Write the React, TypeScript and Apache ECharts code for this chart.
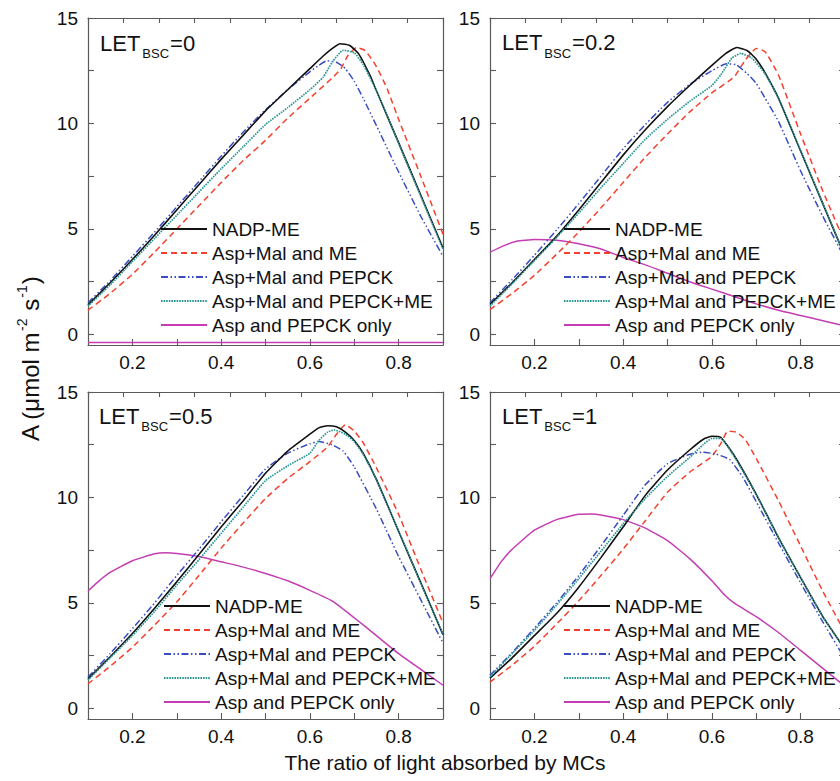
import React, { useEffect, useRef } from 'react';
import * as echarts from 'echarts';

const FONT = '"Liberation Sans", Arial, Helvetica, sans-serif';

const seriesNames = ['NADP-ME', 'Asp+Mal and ME', 'Asp+Mal and PEPCK', 'Asp+Mal and PEPCK+ME', 'Asp and PEPCK only'];
const letValues = ['0', '0.2', '0.5', '1'];
const xTickValues = [0.2, 0.3, 0.4, 0.5, 0.6, 0.7, 0.8];
const xLabelValues = [0.2, 0.4, 0.6, 0.8];
const yTickValues = [0, 2.5, 5, 7.5, 10, 12.5, 15];
const yLabelValues = [0, 5, 10, 15];
const xTitle = 'The ratio of light absorbed by MCs';

// ---- LET_BSC = 0 ----
const nadp_let0 = [[0.1,1.4],[0.15,2.45],[0.2,3.55],[0.25,4.7],[0.3,5.9],[0.35,7.1],[0.4,8.3],[0.45,9.45],[0.5,10.6],[0.55,11.6],[0.6,12.6],[0.63,13.2],[0.65,13.55],[0.668,13.78],[0.69,13.7],[0.71,13.3],[0.735,12.3],[0.75,11.55],[0.8,9.1],[0.85,6.6],[0.9,4.1]];
const aspMalMe_let0 = [[0.1,1.15],[0.15,1.95],[0.2,2.85],[0.25,3.9],[0.3,5.0],[0.35,6.1],[0.4,7.2],[0.45,8.25],[0.5,9.2],[0.55,10.25],[0.6,11.2],[0.65,12.15],[0.67,12.6],[0.685,13.2],[0.705,13.6],[0.725,13.45],[0.75,12.7],[0.775,11.6],[0.8,10.2],[0.85,7.5],[0.9,4.75]];
const aspMalPepck_let0 = [[0.1,1.5],[0.15,2.55],[0.2,3.7],[0.25,4.85],[0.3,6.05],[0.35,7.25],[0.4,8.45],[0.45,9.6],[0.5,10.65],[0.55,11.6],[0.6,12.45],[0.62,12.75],[0.638,12.97],[0.66,12.9],[0.68,12.6],[0.7,12.0],[0.72,11.2],[0.75,9.9],[0.8,7.7],[0.85,5.6],[0.9,3.7]];
const aspMalPepckMe_let0 = [[0.1,1.35],[0.15,2.35],[0.2,3.45],[0.25,4.55],[0.3,5.65],[0.35,6.75],[0.4,7.85],[0.45,8.9],[0.5,9.95],[0.55,10.75],[0.6,11.6],[0.63,12.2],[0.65,12.9],[0.675,13.47],[0.7,13.35],[0.72,12.8],[0.75,11.55],[0.8,9.05],[0.85,6.55],[0.9,4.05]];
const aspPepck_let0 = [[0.1,-0.38],[0.5,-0.38],[0.9,-0.38]];

// ---- LET_BSC = 0.2 ----
const nadp_let02 = [[0.1,1.42],[0.15,2.45],[0.2,3.55],[0.25,4.65],[0.3,5.9],[0.35,7.2],[0.4,8.5],[0.45,9.7],[0.5,10.8],[0.55,11.8],[0.6,12.75],[0.63,13.3],[0.656,13.6],[0.68,13.45],[0.7,13.05],[0.72,12.4],[0.75,11.2],[0.8,8.7],[0.85,6.2],[0.9,3.7]];
const aspMalMe_let02 = [[0.1,1.18],[0.15,1.95],[0.2,2.8],[0.25,3.8],[0.3,4.85],[0.35,6.0],[0.4,7.2],[0.45,8.4],[0.5,9.5],[0.55,10.55],[0.6,11.45],[0.65,12.2],[0.675,13.0],[0.7,13.55],[0.72,13.4],[0.75,12.3],[0.8,9.5],[0.85,6.8],[0.9,4.35]];
const aspMalPepck_let02 = [[0.1,1.5],[0.15,2.6],[0.2,3.75],[0.25,4.95],[0.3,6.2],[0.35,7.5],[0.4,8.8],[0.45,9.95],[0.5,11.0],[0.55,11.85],[0.6,12.5],[0.633,12.83],[0.655,12.78],[0.68,12.35],[0.7,11.9],[0.72,11.2],[0.75,10.1],[0.8,7.75],[0.85,5.6],[0.9,3.6]];
const aspMalPepckMe_let02 = [[0.1,1.35],[0.15,2.4],[0.2,3.5],[0.25,4.6],[0.3,5.75],[0.35,6.95],[0.4,8.1],[0.45,9.25],[0.5,10.2],[0.55,11.05],[0.6,11.8],[0.62,12.3],[0.645,13.1],[0.665,13.32],[0.69,13.1],[0.72,12.35],[0.75,11.2],[0.8,8.7],[0.85,6.2],[0.9,3.7]];
const aspPepck_let02 = [[0.1,3.9],[0.13,4.2],[0.16,4.42],[0.2,4.5],[0.25,4.47],[0.3,4.3],[0.35,4.05],[0.4,3.65],[0.45,3.3],[0.5,2.9],[0.55,2.5],[0.6,2.15],[0.65,1.8],[0.7,1.45],[0.75,1.15],[0.8,0.9],[0.85,0.65],[0.9,0.4]];

// ---- LET_BSC = 0.5 ----
const nadp_let05 = [[0.1,1.4],[0.15,2.45],[0.2,3.55],[0.25,4.75],[0.3,6.0],[0.35,7.3],[0.4,8.6],[0.45,9.85],[0.5,11.15],[0.55,12.2],[0.6,13.0],[0.62,13.3],[0.64,13.4],[0.66,13.35],[0.68,13.1],[0.7,12.7],[0.72,12.1],[0.75,10.85],[0.8,8.4],[0.85,5.95],[0.9,3.5]];
const aspMalMe_let05 = [[0.1,1.17],[0.15,2.0],[0.2,2.9],[0.25,3.95],[0.3,5.05],[0.35,6.3],[0.4,7.6],[0.45,8.8],[0.5,9.95],[0.55,10.9],[0.6,11.7],[0.64,12.4],[0.66,13.0],[0.68,13.45],[0.7,13.15],[0.72,12.6],[0.75,11.4],[0.8,9.2],[0.85,6.6],[0.9,4.05]];
const aspMalPepck_let05 = [[0.1,1.49],[0.15,2.6],[0.2,3.78],[0.25,5.0],[0.3,6.3],[0.35,7.55],[0.4,8.85],[0.45,10.1],[0.5,11.35],[0.55,12.1],[0.6,12.55],[0.62,12.65],[0.65,12.5],[0.675,12.2],[0.7,11.45],[0.75,9.45],[0.8,7.2],[0.85,5.15],[0.9,3.1]];
const aspMalPepckMe_let05 = [[0.1,1.35],[0.15,2.4],[0.2,3.45],[0.25,4.6],[0.3,5.85],[0.35,7.05],[0.4,8.3],[0.45,9.55],[0.5,10.8],[0.55,11.5],[0.6,12.1],[0.62,12.7],[0.64,13.1],[0.655,13.2],[0.68,13.0],[0.7,12.65],[0.72,12.05],[0.75,10.85],[0.8,8.4],[0.85,5.95],[0.9,3.5]];
const aspPepck_let05 = [[0.1,5.57],[0.125,6.05],[0.15,6.45],[0.2,7.0],[0.25,7.33],[0.275,7.38],[0.3,7.35],[0.35,7.2],[0.4,6.95],[0.45,6.7],[0.5,6.4],[0.55,6.05],[0.6,5.6],[0.65,5.1],[0.7,4.3],[0.75,3.45],[0.8,2.6],[0.85,1.85],[0.9,1.1]];

// ---- LET_BSC = 1 ----
const nadp_let1 = [[0.1,1.44],[0.15,2.4],[0.2,3.45],[0.25,4.5],[0.3,5.75],[0.35,7.15],[0.4,8.6],[0.45,10.1],[0.5,11.3],[0.55,12.25],[0.58,12.75],[0.6,12.9],[0.62,12.85],[0.65,12.0],[0.7,10.15],[0.75,8.1],[0.8,6.2],[0.85,4.35],[0.9,2.8]];
const aspMalMe_let1 = [[0.1,1.25],[0.15,2.05],[0.2,2.95],[0.25,4.0],[0.3,5.1],[0.35,6.3],[0.4,7.55],[0.45,8.9],[0.5,10.25],[0.55,11.2],[0.6,11.95],[0.62,12.55],[0.636,13.15],[0.655,13.1],[0.675,12.75],[0.7,11.85],[0.75,9.85],[0.8,7.7],[0.85,5.55],[0.9,3.6]];
const aspMalPepck_let1 = [[0.1,1.57],[0.15,2.65],[0.2,3.8],[0.25,5.0],[0.3,6.3],[0.35,7.7],[0.4,9.15],[0.45,10.6],[0.5,11.6],[0.55,12.05],[0.58,12.15],[0.61,12.05],[0.64,11.8],[0.67,10.95],[0.7,9.8],[0.75,7.85],[0.8,5.95],[0.85,4.1],[0.9,2.35]];
const aspMalPepckMe_let1 = [[0.1,1.5],[0.15,2.6],[0.2,3.7],[0.25,4.9],[0.3,6.15],[0.35,7.45],[0.4,8.75],[0.45,9.95],[0.5,11.0],[0.55,11.9],[0.58,12.5],[0.6,12.8],[0.62,12.8],[0.65,11.95],[0.7,10.15],[0.75,8.1],[0.8,6.2],[0.85,4.35],[0.9,2.8]];
const aspPepck_let1 = [[0.1,6.15],[0.125,6.95],[0.15,7.55],[0.2,8.45],[0.25,8.95],[0.3,9.2],[0.33,9.22],[0.35,9.17],[0.4,8.95],[0.45,8.55],[0.5,7.95],[0.55,7.1],[0.6,6.05],[0.63,5.35],[0.65,5.0],[0.7,4.35],[0.75,3.6],[0.8,2.75],[0.85,1.9],[0.9,1.05]];

const panelData = [
  [nadp_let0, aspMalMe_let0, aspMalPepck_let0, aspMalPepckMe_let0, aspPepck_let0],
  [nadp_let02, aspMalMe_let02, aspMalPepck_let02, aspMalPepckMe_let02, aspPepck_let02],
  [nadp_let05, aspMalMe_let05, aspMalPepck_let05, aspMalPepckMe_let05, aspPepck_let05],
  [nadp_let1, aspMalMe_let1, aspMalPepck_let1, aspMalPepckMe_let1, aspPepck_let1],
];

const colors = ['#111111', '#f4402c', '#3a4cc2', '#2a9794', '#c43db2'];
const lineTypes: any[] = ['solid', [6, 4], [7, 2.5, 1.5, 2.5, 1.5, 2.5], [1.6, 1], 'solid'];
const lineWidths = [1.6, 1.5, 1.5, 1.7, 1.5];
const drawOrder = [4, 1, 2, 0, 3];

const gridPos = [
  { left: 88, top: 18 },
  { left: 490, top: 18 },
  { left: 88, top: 392 },
  { left: 490, top: 392 },
];
const legendPos = [
  { left: 160, top: 219.5 },
  { left: 563, top: 219.5 },
  { left: 163, top: 596.5 },
  { left: 563, top: 596.5 },
];
const labelPos = [
  { x: 100, y: 43 },
  { x: 502, y: 42.5 },
  { x: 99, y: 416 },
  { x: 502, y: 416 },
];

const AXIS_COLOR = '#5a5a5a';

export default function App() {
  const ref = useRef<HTMLDivElement>(null);
  useEffect(() => {
    if (!ref.current) return;
    const chart = echarts.init(ref.current, null, { renderer: 'svg' });

    const axisLine = { show: true, onZero: false, lineStyle: { color: AXIS_COLOR, width: 1.2 } };
    const tickStyle = { color: AXIS_COLOR, width: 1.1 };
    const labelStyle = { fontSize: 19, color: '#111', fontFamily: FONT };

    const grid = gridPos.map((g) => ({
      left: g.left, top: g.top, width: 355, height: 327,
      containLabel: false, outerBoundsMode: 'none',
    }));

    const xAxis: any[] = [];
    const yAxis: any[] = [];
    for (let i = 0; i < 4; i++) {
      xAxis.push({
        gridIndex: i, type: 'value', min: 0.1, max: 0.9, position: 'bottom',
        axisLine,
        axisTick: { inside: true, length: 6, customValues: xTickValues, lineStyle: tickStyle },
        axisLabel: { ...labelStyle, margin: 8, customValues: xLabelValues, formatter: (v: number) => v.toFixed(1) },
        splitLine: { show: false },
      });
    }
    for (let i = 0; i < 4; i++) {
      xAxis.push({
        gridIndex: i, type: 'value', min: 0, max: 10, interval: 1, position: 'top',
        axisLine,
        axisTick: { inside: true, length: 5, lineStyle: tickStyle },
        axisLabel: { show: false },
        splitLine: { show: false },
      });
    }
    for (let i = 0; i < 4; i++) {
      yAxis.push({
        gridIndex: i, type: 'value', min: -0.5, max: 15, position: 'left',
        axisLine,
        axisTick: { inside: true, length: 6, customValues: yTickValues, lineStyle: tickStyle },
        axisLabel: { ...labelStyle, margin: 10, customValues: yLabelValues, formatter: (v: number) => String(v) },
        splitLine: { show: false },
      });
    }
    for (let i = 0; i < 4; i++) {
      yAxis.push({
        gridIndex: i, type: 'value', min: -0.5, max: 15, position: 'right',
        axisLine,
        axisTick: { inside: true, length: 6, customValues: yTickValues, lineStyle: tickStyle },
        axisLabel: { show: false },
        splitLine: { show: false },
      });
    }

    const series: any[] = [];
    for (let p = 0; p < 4; p++) {
      for (const s of drawOrder) {
        series.push({
          type: 'line',
          name: seriesNames[s],
          xAxisIndex: p,
          yAxisIndex: p,
          data: panelData[p][s],
          symbol: 'none',
          showSymbol: false,
          smooth: 0.15,
          clip: true,
          lineStyle: { color: colors[s], width: lineWidths[s], type: lineTypes[s] },
          itemStyle: { color: colors[s] },
          emphasis: { disabled: true },
        });
      }
    }

    const legend = legendPos.map((l) => ({
      orient: 'vertical', left: l.left, top: l.top, padding: 0,
      itemGap: 5, itemWidth: 46, itemHeight: 14,
      selectedMode: false,
      data: seriesNames,
      itemStyle: { opacity: 0, borderWidth: 0 },
      textStyle: { fontSize: 19, color: '#111', fontFamily: FONT },
    }));

    const graphic: any[] = labelPos.map((pos, i) => ({
      type: 'text', x: pos.x, y: pos.y, z: 10,
      style: {
        text: `{a|LET}{b|BSC}{a|=${letValues[i]}}`,
        fill: '#111',
        align: 'left', verticalAlign: 'middle',
        textAlign: 'left', textVerticalAlign: 'middle',
        rich: {
          a: { fontSize: 22, lineHeight: 34, fontFamily: FONT, fill: '#111' },
          b: { fontSize: 13, lineHeight: 13, verticalAlign: 'bottom', fontFamily: FONT, fill: '#111', padding: [0, 1, 0, 2] },
        },
      },
    }));
    graphic.push({
      type: 'text', x: 445, y: 762,
      style: {
        text: xTitle, fill: '#111', fontSize: 21, fontFamily: FONT,
        align: 'center', verticalAlign: 'middle', textAlign: 'center', textVerticalAlign: 'middle',
      },
    });
    graphic.push({
      type: 'text', x: 30, y: 359, rotation: Math.PI / 2,
      style: {
        text: '{m|A (\u03bcmol m}{s|-2}{m| s}{s|-1}{m|)}',
        fill: '#111',
        align: 'center', verticalAlign: 'middle', textAlign: 'center', textVerticalAlign: 'middle',
        rich: {
          m: { fontSize: 24, lineHeight: 30, fontFamily: FONT, fill: '#111' },
          s: { fontSize: 14, lineHeight: 14, verticalAlign: 'top', fontFamily: FONT, fill: '#111', padding: [0, 1, 0, 1] },
        },
      },
    });

    chart.setOption({
      animation: false,
      backgroundColor: '#ffffff',
      textStyle: { fontFamily: FONT },
      grid, xAxis, yAxis, series, legend, graphic,
    });

    return () => chart.dispose();
  }, []);

  return (
    <div
      ref={ref}
      style={{ position: 'absolute', left: 0, top: 0, width: 840, height: 781, background: '#fff' }}
    />
  );
}
